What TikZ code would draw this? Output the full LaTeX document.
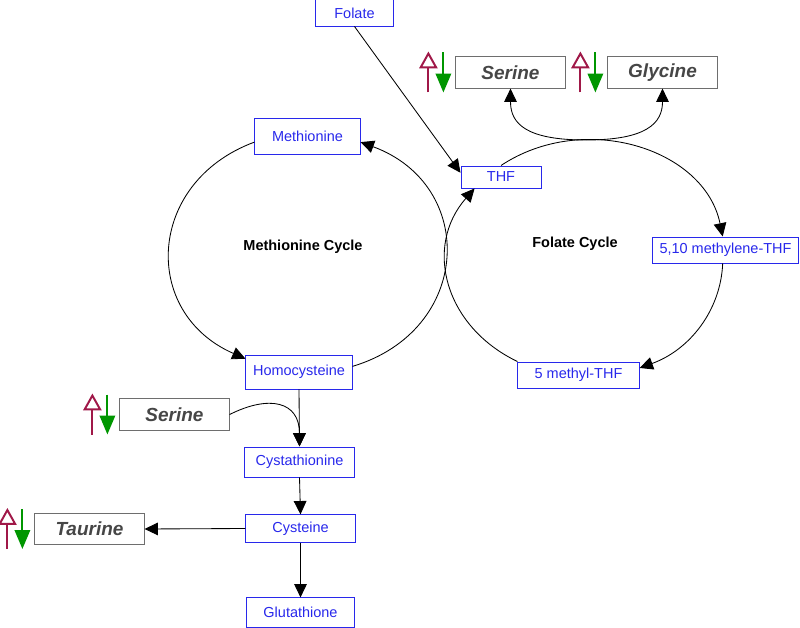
\documentclass[tikz,border=0pt]{standalone}
\usepackage{fontspec}
\setmainfont{Liberation Sans}
\usepackage{xcolor}
\usepackage{tikz}
\usetikzlibrary{arrows.meta}

\definecolor{metblue}{RGB}{40,40,235}
\definecolor{upred}{RGB}{160,24,72}
\definecolor{downgreen}{RGB}{0,150,0}
\definecolor{boxgray}{RGB}{110,110,110}
\definecolor{textgray}{RGB}{70,70,70}

\begin{document}
\begin{tikzpicture}[
    x=0.025cm, y=-0.025cm,
    metab/.style={rectangle, draw=metblue, text=metblue, line width=0.7pt, inner sep=0pt, font=\fontsize{10.3}{12}\selectfont},
    aminobox/.style={rectangle, draw=boxgray, text=textgray, line width=0.7pt, inner sep=0pt, minimum width=2.73cm, minimum height=0.78cm, font=\fontsize{13.5}{16}\selectfont\bfseries\itshape},
    cyclelabel/.style={font=\fontsize{10.3}{12}\selectfont\bfseries},
    arrow/.style={-{Triangle[length=9.5pt, width=9pt]}, line width=0.6pt},
    updown/.pic={
        \draw[upred, line width=1.4pt, -{Triangle[open, length=12pt, width=13pt]}] (-27,20) -- (-27,-21);
        \draw[downgreen, line width=1.4pt, -{Triangle[length=13.5pt, width=11pt]}] (-12,-20) -- (-12,20);
    }
]
\useasboundingbox (0,0) rectangle (800,628);

% metabolites
\node[metab, minimum width=1.95cm, minimum height=0.65cm] (folate) at (354.5,13) {Folate};
\node[metab, minimum width=2.63cm, minimum height=0.88cm] (meth) at (307.5,136.5) {Methionine};
\node[metab, minimum width=2.0cm, minimum height=0.55cm] (thf) at (501,177) {THF};
\node[metab, minimum width=3.63cm, minimum height=0.65cm] (mthf510) at (725.5,250) {5,10 methylene-THF};
\node[metab, minimum width=2.65cm, minimum height=0.85cm] (homocys) at (299,372) {Homocysteine};
\node[metab, minimum width=3.03cm, minimum height=0.65cm] (mthf5) at (578.5,375) {5 methyl-THF};
\node[metab, minimum width=2.73cm, minimum height=0.75cm] (cysta) at (299.5,462) {Cystathionine};
\node[metab, minimum width=2.73cm, minimum height=0.68cm] (cys) at (300.5,528.5) {Cysteine};
\node[metab, minimum width=2.68cm, minimum height=0.73cm] (gsh) at (300.5,612.5) {Glutathione};

% amino acids with up/down marks
\node[aminobox] (serA) at (510.5,72.5) {Serine};
\node[aminobox] (gly) at (662.5,72.5) {Glycine};
\node[aminobox] (serB) at (174.5,414.5) {Serine};
\node[aminobox] (taur) at (89.5,529) {Taurine};
\pic at (serA.west) {updown};
\pic at (gly.west) {updown};
\pic at (serB.west) {updown};
\pic at (taur.west) {updown};

% cycle labels
\node[cyclelabel] (methcycle) at (303,247) {Methionine Cycle};
\node[cyclelabel] (folcycle) at (575,244) {Folate Cycle};
\coordinate (foltop) at (586,140);

% methionine cycle
\draw[arrow] ([yshift=-4pt]meth.west) .. controls +(-108,40) and +(-105,-46) .. ([yshift=-3pt]homocys.north west);
\draw[arrow] ([yshift=4pt]homocys.east) .. controls +(120,-36) and +(117,43) .. ([yshift=-4pt]meth.east);

% folate cycle
\draw[arrow] (mthf5.north west) .. controls +(-73,-35) and +(-51,58) .. ([xshift=10pt]thf.south west);
\draw[arrow] (thf.north) .. controls +(83,-55) and +(-18,-88) .. ([xshift=-2pt]mthf510.north);
\draw[arrow] ([xshift=-2pt]mthf510.south) .. controls +(-2,47) and +(50,-18) .. ([yshift=5pt]mthf5.east);
\draw[arrow] (folate.south) -- ([yshift=3pt]thf.west);
\draw[arrow] (foltop) .. controls +(-60,0) and +(0,35) .. (serA.south);
\draw[arrow] (foltop) .. controls +(60,0) and +(0,35) .. (gly.south);

% transsulfuration
\draw[arrow] (homocys.south) -- (cysta.north);
\draw[arrow] (serB.east) .. controls +(40,-20) and +(0,-45) .. (cysta.north);
\draw[arrow] (cysta.south) -- (cys.north);
\draw[arrow] (cys.south) -- (gsh.north);
\draw[arrow] (cys.west) -- (taur.east);

\end{tikzpicture}
\end{document}
